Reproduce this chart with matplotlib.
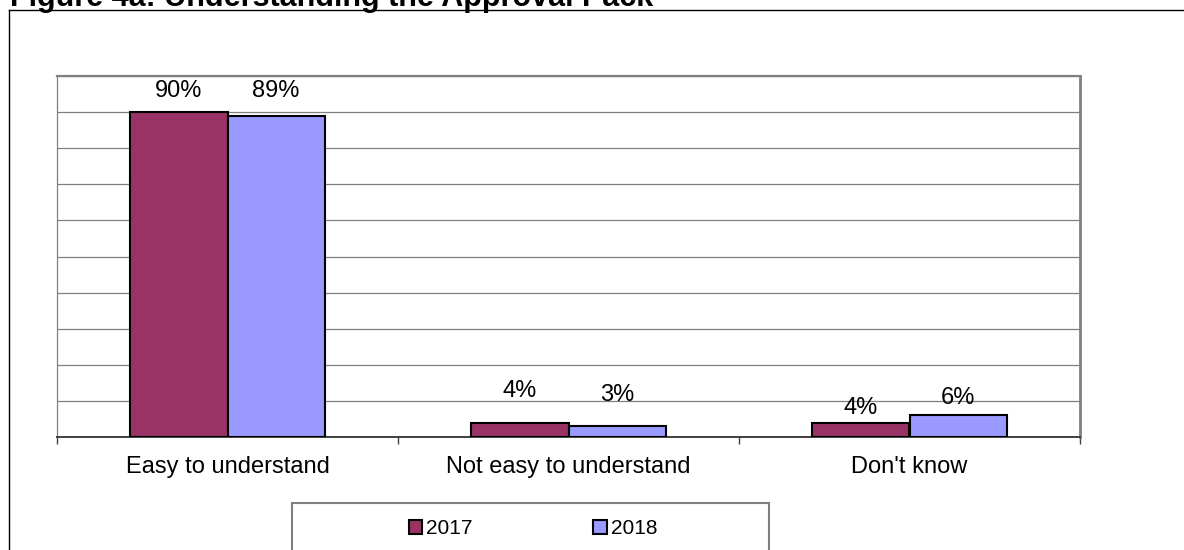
import matplotlib.pyplot as plt
from matplotlib.patches import Rectangle
from matplotlib.lines import Line2D
import numpy as np

plt.rcParams["font.family"] = ["Liberation Sans", "DejaVu Sans"]

categories = ["Easy to understand", "Not easy to understand", "Don't know"]
years = ["2017", "2018"]
values_2017 = [90, 4, 4]
values_2018 = [89, 3, 6]

colors = ["#993366", "#9999FF"]
# label lift above bar top, in pixels
label_lift = [[21, 32, 15], [25, 31, 17]]

W, H = 1184, 550
fig = plt.figure(figsize=(W / 100, H / 100), dpi=100)
fig.patch.set_facecolor("white")

ax = fig.add_axes([57 / W, 1 - 437 / H, (1080 - 57) / W, (437 - 76) / H])

x = np.arange(len(categories))
bw = 0.285
series = [values_2017, values_2018]
for i, vals in enumerate(series):
    pos = x + (i - 0.5) * bw
    ax.bar(pos, vals, width=bw, color=colors[i], edgecolor="black",
           linewidth=1.5, zorder=3, label=years[i])
    for j, (p, v) in enumerate(zip(pos, vals)):
        ax.annotate(f"{v}%", (p, v), xytext=(0, label_lift[i][j] * 0.72),
                    textcoords="offset points", ha="center", va="center",
                    fontsize=17, zorder=4)

ax.set_xlim(-0.5, len(categories) - 0.5)
ax.set_ylim(0, 100)
ax.set_yticks(np.arange(0, 101, 10))
ax.set_yticklabels([])
ax.tick_params(axis="y", length=0)
ax.yaxis.grid(True, color="#808080", linewidth=0.9, zorder=0)

ax.set_xticks(np.arange(-0.5, len(categories), 1))
ax.set_xticklabels([])
ax.tick_params(axis="x", length=5, width=1, color="#404040", direction="out")
for j, c in enumerate(categories):
    ax.text(x[j], -8.3, c, ha="center", va="center", fontsize=17)

ax.spines["top"].set_color("#808080")
ax.spines["top"].set_linewidth(1.6)
ax.spines["right"].set_color("#808080")
ax.spines["right"].set_linewidth(2)
ax.spines["left"].set_color("#808080")
ax.spines["left"].set_linewidth(0.9)
ax.spines["bottom"].set_color("#404040")
ax.spines["bottom"].set_linewidth(1.4)

# outer chart frame
fig.add_artist(Line2D([9 / W, 9 / W], [1 - 10 / H, 0], color="black",
                      linewidth=1.0, transform=fig.transFigure))
fig.add_artist(Line2D([9 / W, 1], [1 - 10 / H, 1 - 10 / H], color="black",
                      linewidth=1.0, transform=fig.transFigure))

# legend box
fig.add_artist(Rectangle((292 / W, -0.05), (769 - 292) / W, 0.05 + (550 - 503) / H,
                         transform=fig.transFigure, facecolor="white",
                         edgecolor="#808080", linewidth=1.5))
handles = [Rectangle((0, 0), 1, 1, facecolor=colors[i], edgecolor="black",
                     linewidth=1.5) for i in range(2)]
fig.legend(handles, years, loc="center", bbox_to_anchor=(533 / W, 1 - 529 / H),
           ncol=2, frameon=False, fontsize=15, handlelength=0.63,
           handleheight=0.63, handletextpad=0.2, columnspacing=5.8)

fig.text(10 / W, 1 - 6 / H, "Figure 4a: Understanding the Approval Pack",
         fontsize=22, fontweight="bold", ha="left", va="baseline")

fig.savefig("out.png", dpi=100)
